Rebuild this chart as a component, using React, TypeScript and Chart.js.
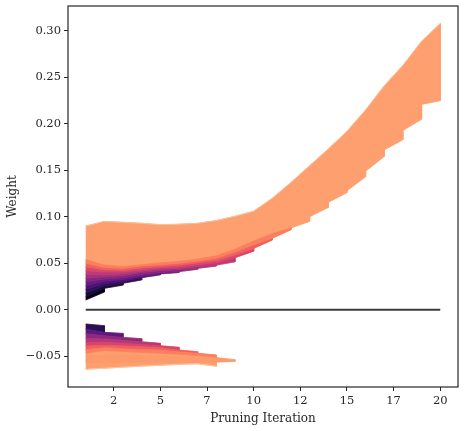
import React, { useEffect, useRef } from 'react';
import { Chart, registerables } from 'chart.js';

Chart.register(...registerables);

// ---------- data ----------
const iterations = [1, 2, 3, 4, 5, 6, 7, 8, 9, 10, 11, 12, 13, 14, 15, 16, 17, 18, 19, 20];
const xTickValues = [2.5, 5, 7.5, 10, 12.5, 15, 17.5, 20];
const xTickLabels = ['2', '5', '7', '10', '12', '15', '17', '20'];
const yTickValues = [-0.05, 0, 0.05, 0.1, 0.15, 0.2, 0.25, 0.3];
const yTickLabels = ['\u22120.05', '0.00', '0.05', '0.10', '0.15', '0.20', '0.25', '0.30'];

// positive weights: upper envelope (x = 1..20)
const posTop = [0.090, 0.095, 0.094, 0.093, 0.0915, 0.092, 0.093, 0.096, 0.1005, 0.106,
  0.120, 0.137, 0.155, 0.173, 0.192, 0.215, 0.241, 0.263, 0.289, 0.308];
// smallest surviving positive weight at x = 1..19
const posCont = [0.0105, 0.023, 0.0285, 0.0345, 0.0385, 0.041, 0.0445, 0.048, 0.056, 0.066,
  0.077, 0.088, 0.100, 0.1155, 0.128, 0.149, 0.172, 0.193, 0.221];
// smallest positive weight pruned at x = 2..20
const posEnd = [0.019, 0.0265, 0.032, 0.0375, 0.040, 0.0435, 0.047, 0.0515, 0.063, 0.075,
  0.086, 0.095, 0.110, 0.126, 0.143, 0.165, 0.183, 0.205, 0.225];

// lower edges of the positive weights pruned at iteration k (x = 1..k)
const posS2 = [0.0105, 0.019];
const posS3 = [0.014, 0.023, 0.0265];
const posS4 = [0.018, 0.0255, 0.0285, 0.032];
const posS5 = [0.022, 0.028, 0.0305, 0.0345, 0.0375];
const posS6 = [0.026, 0.0305, 0.0325, 0.036, 0.0385, 0.040];
const posS7 = [0.030, 0.033, 0.0345, 0.038, 0.040, 0.041, 0.0435];
const posS8 = [0.034, 0.0355, 0.0365, 0.040, 0.042, 0.043, 0.0445, 0.047];
const posS9 = [0.038, 0.038, 0.0385, 0.0415, 0.0435, 0.0445, 0.0465, 0.048, 0.0515];
const posS10 = [0.042, 0.0405, 0.0405, 0.043, 0.045, 0.046, 0.0485, 0.0505, 0.056, 0.063];
const posS11 = [0.046, 0.043, 0.0425, 0.045, 0.0465, 0.048, 0.0505, 0.053, 0.059, 0.066, 0.075];
const posS12 = [0.050, 0.0455, 0.0445, 0.047, 0.0485, 0.050, 0.0525, 0.0555, 0.062, 0.070, 0.077, 0.086];
const posS13 = [0.054, 0.048, 0.0465, 0.0485, 0.0505, 0.052, 0.0545, 0.058, 0.065, 0.074, 0.082, 0.088, 0.095];
const posStripColors = ['#05041a', '#140e36', '#2c115f', '#4c117a', '#681c81', '#842681',
  '#a1307e', '#bf3a77', '#da466c', '#f06060', '#fb7f5e'];
const bulkColor = '#fd9f6e';

// negative weights: upper (closest to zero) staircase
const negCont = [-0.0154, -0.0244, -0.0298, -0.0345, -0.0388, -0.0434, -0.047]; // x = 1..7
const negEnd = [-0.0172, -0.0255, -0.0312, -0.0362, -0.0405, -0.0452, -0.0488]; // x = 2..8
const negBottom = [-0.0640, -0.0630, -0.0618, -0.0607, -0.0598, -0.0588, -0.0582, -0.0608]; // x = 1..8
// upper edges of negative weights pruned at iteration k (x = 1..k)
const negS2 = [-0.0154, -0.0172];
const negS3 = [-0.021, -0.0244, -0.0255];
const negS4 = [-0.026, -0.028, -0.0298, -0.0312];
const negS5 = [-0.031, -0.0315, -0.033, -0.0345, -0.0362];
const negS6 = [-0.035, -0.035, -0.036, -0.0375, -0.0388, -0.0405];
const negS7 = [-0.039, -0.0385, -0.039, -0.040, -0.041, -0.0434, -0.0452];
const negS8 = [-0.043, -0.041, -0.042, -0.043, -0.0435, -0.0455, -0.047, -0.0488];
const negS9 = [-0.047, -0.044, -0.045, -0.046, -0.047, -0.048, -0.0495, -0.051];
const negStripColors = ['#251255', '#5f187f', '#8c2981', '#b73779', '#d6456c', '#f06060', '#fb7f5e'];
// the last surviving negative weights (x = 1..9)
const negTailUpper = [-0.050, -0.049, -0.049, -0.049, -0.050, -0.050, -0.051, -0.0515, -0.0538];
const negTailLower = [-0.057, -0.057, -0.057, -0.0565, -0.0565, -0.0565, -0.0565, -0.0565, -0.0558];

const zeroLineX = [1, 20];
const zeroLineY = [0, 0];

// ---------- helpers ----------
type P = { x: number; y: number };
function strip(upper: number[], lower: number[], n: number): P[] {
  const pts: P[] = [];
  for (let i = 0; i < n; i++) pts.push({ x: iterations[i], y: upper[i] });
  for (let i = n - 1; i >= 0; i--) pts.push({ x: iterations[i], y: lower[i] });
  return pts;
}
function poly(points: P[], color: string, order: number, bw = 0.7) {
  return {
    data: points, fill: 'shape', backgroundColor: color, borderColor: color,
    borderWidth: bw, pointRadius: 0, tension: 0, order,
  };
}
function line(points: P[], color: string, width: number, order: number) {
  return {
    data: points, fill: false, borderColor: color, borderWidth: width,
    pointRadius: 0, tension: 0, order,
  };
}

function buildDatasets() {
  const ds: any[] = [];
  // positive bulk
  const pb: P[] = posTop.map((v, i) => ({ x: iterations[i], y: v }));
  pb.push({ x: iterations[19], y: posEnd[18] });
  for (let x = 19; x >= 2; x--) {
    pb.push({ x: iterations[x - 1], y: posCont[x - 1] });
    pb.push({ x: iterations[x - 1], y: posEnd[x - 2] });
  }
  pb.push({ x: iterations[0], y: posCont[0] });
  ds.push(poly(pb, bulkColor, 50, 0.8));

  const posS = [posS2, posS3, posS4, posS5, posS6, posS7, posS8, posS9, posS10, posS11, posS12, posS13];
  for (let i = 0; i < posStripColors.length; i++) {
    const k = i + 2;
    ds.push(poly(strip(posS[i + 1], posS[i], k), posStripColors[i], 40 - i));
  }

  // negative bulk
  const nb: P[] = [{ x: iterations[0], y: negCont[0] }];
  for (let x = 2; x <= 7; x++) {
    nb.push({ x: iterations[x - 1], y: negEnd[x - 2] });
    nb.push({ x: iterations[x - 1], y: negCont[x - 1] });
  }
  nb.push({ x: iterations[7], y: negEnd[6] });
  for (let x = 8; x >= 1; x--) nb.push({ x: iterations[x - 1], y: negBottom[x - 1] });
  ds.push(poly(nb, bulkColor, 50, 0.8));
  ds.push(poly(strip(negTailUpper, negTailLower, 9), '#fc9a6c', 45, 0.8));

  const negS = [negS2, negS3, negS4, negS5, negS6, negS7, negS8, negS9];
  for (let i = 0; i < negStripColors.length; i++) {
    const k = i + 2;
    ds.push(poly(strip(negS[i], negS[i + 1], k), negStripColors[i], 40 - i));
  }

  // light highlight lines on the outer edges
  ds.push(line(posTop.map((v, i) => ({ x: iterations[i], y: v })), '#fdbf96', 1, 20));
  ds.push(line(negBottom.map((v, i) => ({ x: iterations[i], y: v })), '#fdc4a2', 1, 20));

  // zero line
  ds.push(line(zeroLineX.map((x, i) => ({ x, y: zeroLineY[i] })), '#3c3c3c', 2, 5));
  return ds;
}

const framePlugin = {
  id: 'frame',
  afterDatasetsDraw(chart: any) {
    const { ctx, chartArea: a } = chart;
    ctx.save();
    ctx.strokeStyle = '#262626';
    ctx.lineWidth = 1.2;
    ctx.strokeRect(a.left, a.top, a.right - a.left, a.bottom - a.top);
    ctx.restore();
  },
};

function zeroPad(s: any) {
  s.paddingTop = 0;
  s.paddingBottom = 0;
  s.paddingLeft = 0;
  s.paddingRight = 0;
}

export default function App() {
  const ref = useRef<HTMLCanvasElement>(null);
  useEffect(() => {
    document.body.style.margin = '0';
    Chart.defaults.font.family = "'DejaVu Serif', serif";
    const chart = new Chart(ref.current!, {
      type: 'line',
      data: { datasets: buildDatasets() },
      options: {
        animation: false,
        responsive: false,
        devicePixelRatio: 1,
        layout: { padding: { top: 6, right: 7, left: 0, bottom: 0 } },
        plugins: { legend: { display: false }, tooltip: { enabled: false } },
        scales: {
          x: {
            type: 'linear', min: 0.05, max: 20.95,
            afterBuildTicks: (s: any) => { s.ticks = xTickValues.map((v) => ({ value: v })); },
            afterFit: (s: any) => { s.height = 44; zeroPad(s); },
            ticks: {
              autoSkip: false, maxRotation: 0, padding: 3, color: '#262626', font: { size: 11.5 },
              callback: (_v: any, i: number) => xTickLabels[i],
            },
            grid: { display: true, drawOnChartArea: false, drawTicks: true, tickLength: 4, color: '#262626' },
            border: { display: false },
            title: { display: true, text: 'Pruning Iteration', color: '#262626', font: { size: 12 }, padding: { top: 0, bottom: 4.5 } },
          },
          y: {
            type: 'linear', min: -0.0832, max: 0.3269,
            afterBuildTicks: (s: any) => { s.ticks = yTickValues.map((v) => ({ value: v })); },
            afterFit: (s: any) => { s.width = 68; zeroPad(s); },
            ticks: {
              autoSkip: false, padding: 3, color: '#262626', font: { size: 11.5 },
              callback: (_v: any, i: number) => yTickLabels[i],
            },
            grid: { display: true, drawOnChartArea: false, drawTicks: true, tickLength: 4, color: '#262626' },
            border: { display: false },
            title: { display: true, text: 'Weight', color: '#262626', font: { size: 12 }, padding: { top: 5.5, bottom: 0 } },
          },
        },
      },
      plugins: [framePlugin],
    } as any);
    return () => chart.destroy();
  }, []);
  return <canvas ref={ref} width={465} height={431} style={{ display: 'block', width: 465, height: 431 }} />;
}
